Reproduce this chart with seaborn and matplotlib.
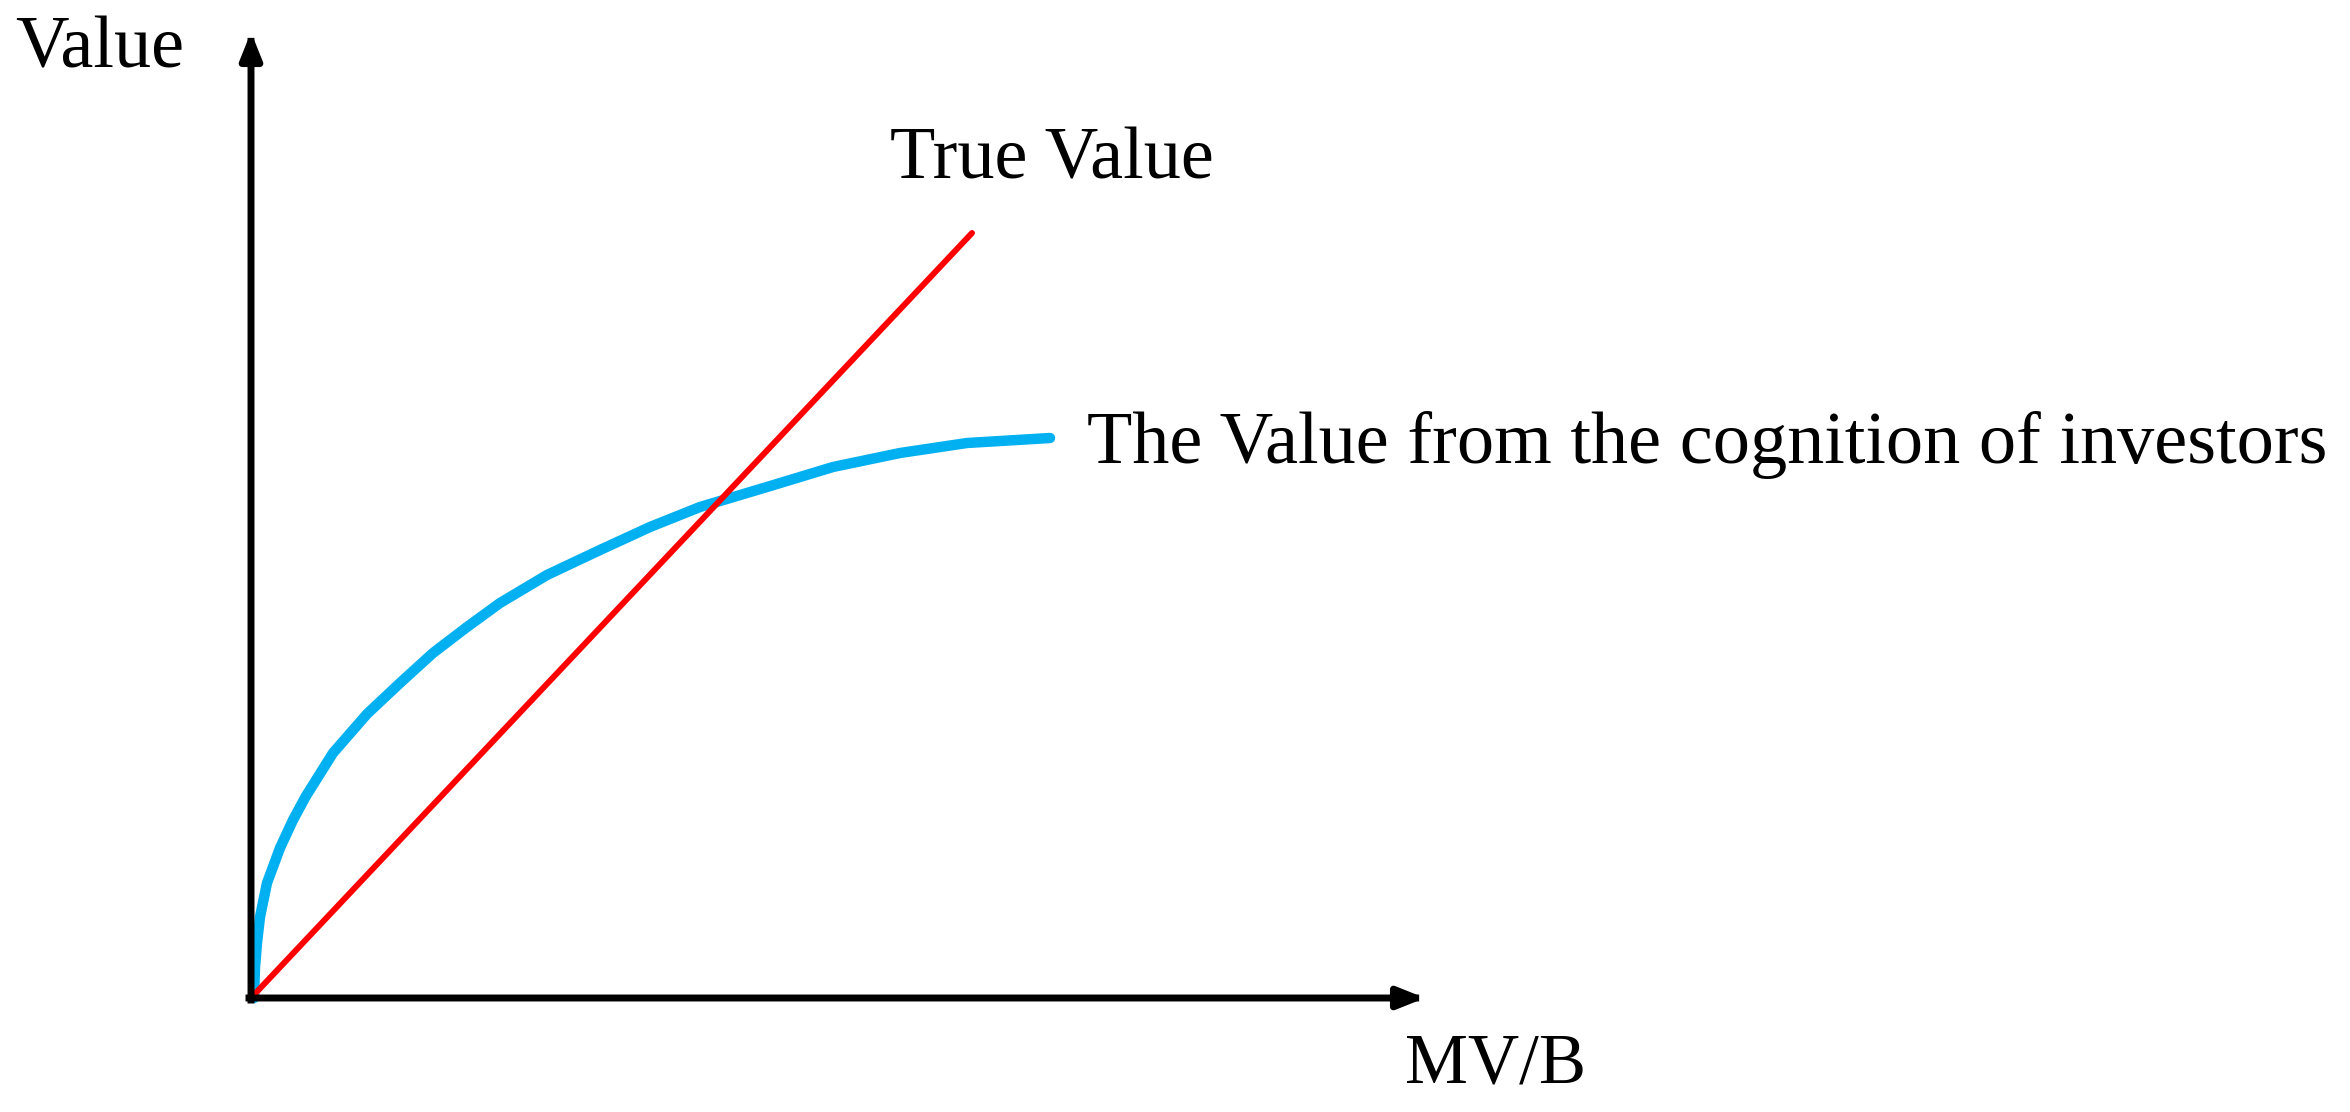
## Part 0: Initialization
import seaborn as sns
import matplotlib.pyplot as plt

sns.set_style("white")
plt.rcParams["font.family"] = ["Liberation Serif", "DejaVu Serif"]

## Part 1: Data (MV/B on x, Value on y)
true_x = [0.0, 7.21]
true_y = [0.0, 7.65]

investor_x = [0.03, 0.04, 0.06, 0.09, 0.16, 0.29, 0.42, 0.55, 0.82, 1.16,
              1.49, 1.82, 2.16, 2.49, 2.96, 3.49, 3.99, 4.49, 5.16, 5.49,
              5.82, 6.49, 7.16, 7.99]
investor_y = [0.00, 0.30, 0.55, 0.81, 1.15, 1.50, 1.78, 2.02, 2.45, 2.84,
              3.15, 3.45, 3.71, 3.95, 4.23, 4.48, 4.71, 4.91, 5.11, 5.21,
              5.31, 5.45, 5.55, 5.60]

x_axis_end = 11.74
y_axis_end = 9.66

## Part 2: Plot
fig = plt.figure(figsize=(23.5, 11.12), dpi=100)
ax = fig.add_axes([0, 0, 1, 1])
ax.set_xlim(-2.51, 20.99)
ax.set_ylim(-1.14, 9.98)
ax.axis("off")

# axes drawn as arrows
arrow = dict(arrowstyle="-|>,head_length=0.8,head_width=0.32", lw=5,
             color="black", mutation_scale=20, shrinkA=0, shrinkB=0,
             capstyle="projecting")
ax.annotate("", xy=(0, y_axis_end), xytext=(0, -0.02), arrowprops=arrow)
ax.annotate("", xy=(x_axis_end, 0), xytext=(-0.02, 0), arrowprops=arrow)

sns.lineplot(x=investor_x, y=investor_y, color="#00B0F0", linewidth=7.5,
             sort=False, ax=ax, solid_capstyle="round",
             solid_joinstyle="round")
sns.lineplot(x=true_x, y=true_y, color="#FF0000", linewidth=4.3,
             sort=False, ax=ax)

ax.text(-2.36, 9.30, "Value", fontsize=53.5, color="black",
        ha="left", va="baseline")
ax.text(6.39, 8.20, "True Value", fontsize=53.5, color="black",
        ha="left", va="baseline")
ax.text(11.54, -0.85, "MV/B", fontsize=51, color="black",
        ha="left", va="baseline")
ax.text(8.36, 5.35, "The Value from the cognition of investors",
        fontsize=53.5, color="black", ha="left", va="baseline")

plt.savefig("out.png", dpi=100)
